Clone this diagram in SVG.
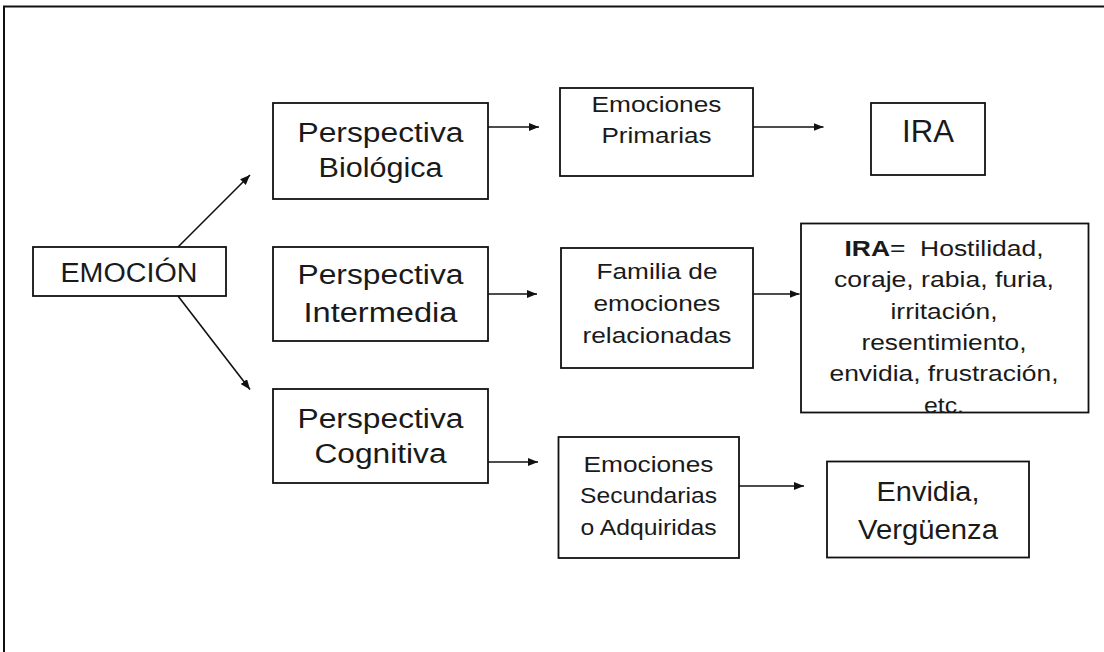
<svg xmlns="http://www.w3.org/2000/svg" width="1104" height="652" viewBox="0 0 1104 652">
<defs>
<marker id="ah" viewBox="0 0 10 8" refX="10" refY="4" markerWidth="10" markerHeight="8" markerUnits="userSpaceOnUse" orient="auto">
<path d="M0,0 L10,4 L0,8 Z" fill="#111"/>
</marker>
<style>
.box{fill:#fff;stroke:#111;stroke-width:1.8}
.t{font-family:"Liberation Sans",Arial,sans-serif;fill:#1a1a1a;text-anchor:middle}
.big{font-size:27px}
.sm{font-size:22.5px}
.conn line{stroke:#111;stroke-width:1.6;marker-end:url(#ah)}
</style>
</defs>
<rect width="1104" height="652" fill="#fff"/>
<path d="M4,652 V6.5 H1104" fill="none" stroke="#111" stroke-width="2"/>

<g id="emocion">
<rect class="box" x="33" y="247" width="193" height="49"/>
<text class="t big" x="129" y="282" textLength="137" lengthAdjust="spacingAndGlyphs">EMOCIÓN</text>
</g>

<g id="p-biologica">
<rect class="box" x="273" y="103" width="215" height="96"/>
<text class="t big" x="380.5" y="142" textLength="166" lengthAdjust="spacingAndGlyphs">Perspectiva</text>
<text class="t big" x="380.5" y="177" textLength="124" lengthAdjust="spacingAndGlyphs">Biológica</text>
</g>

<g id="p-intermedia">
<rect class="box" x="273" y="247" width="215" height="94"/>
<text class="t big" x="380.5" y="284" textLength="166" lengthAdjust="spacingAndGlyphs">Perspectiva</text>
<text class="t big" x="380.5" y="321.5" textLength="154" lengthAdjust="spacingAndGlyphs">Intermedia</text>
</g>

<g id="p-cognitiva">
<rect class="box" x="273" y="389" width="215" height="94"/>
<text class="t big" x="380.5" y="428" textLength="166" lengthAdjust="spacingAndGlyphs">Perspectiva</text>
<text class="t big" x="380.5" y="463" textLength="132" lengthAdjust="spacingAndGlyphs">Cognitiva</text>
</g>

<g id="primarias">
<rect class="box" x="560" y="88" width="193" height="88"/>
<text class="t sm" x="656.5" y="111.5" textLength="130" lengthAdjust="spacingAndGlyphs">Emociones</text>
<text class="t sm" x="656.5" y="143" textLength="110" lengthAdjust="spacingAndGlyphs">Primarias</text>
</g>

<g id="familia">
<rect class="box" x="561" y="248" width="192" height="120"/>
<text class="t sm" x="657" y="279" textLength="121" lengthAdjust="spacingAndGlyphs">Familia de</text>
<text class="t sm" x="657" y="311" textLength="127" lengthAdjust="spacingAndGlyphs">emociones</text>
<text class="t sm" x="657" y="343" textLength="149" lengthAdjust="spacingAndGlyphs">relacionadas</text>
</g>

<g id="secundarias">
<rect class="box" x="558.5" y="437" width="180.5" height="121"/>
<text class="t sm" x="648.5" y="471.5" textLength="130" lengthAdjust="spacingAndGlyphs">Emociones</text>
<text class="t sm" x="648.5" y="503.3" textLength="137" lengthAdjust="spacingAndGlyphs">Secundarias</text>
<text class="t sm" x="648.5" y="535" textLength="136" lengthAdjust="spacingAndGlyphs">o Adquiridas</text>
</g>

<g id="ira">
<rect class="box" x="871" y="103" width="114" height="72"/>
<text class="t" style="font-size:31px" x="928" y="141.5" textLength="52" lengthAdjust="spacingAndGlyphs">IRA</text>
</g>

<g id="ira-familia">
<rect class="box" x="801" y="223.5" width="287.5" height="189"/>
<text class="t sm" x="944" y="255.5" textLength="199" lengthAdjust="spacingAndGlyphs" style="white-space:pre" xml:space="preserve"><tspan font-weight="bold">IRA</tspan>=  Hostilidad,</text>
<text class="t sm" x="944" y="287.2" textLength="220" lengthAdjust="spacingAndGlyphs">coraje, rabia, furia,</text>
<text class="t sm" x="944" y="318.6" textLength="107" lengthAdjust="spacingAndGlyphs">irritación,</text>
<text class="t sm" x="944" y="350" textLength="165" lengthAdjust="spacingAndGlyphs">resentimiento,</text>
<text class="t sm" x="944" y="381.4" textLength="229" lengthAdjust="spacingAndGlyphs">envidia, frustración,</text>
<text class="t sm" x="944" y="412.8" textLength="40" lengthAdjust="spacingAndGlyphs">etc.</text>
</g>

<g id="envidia">
<rect class="box" x="827" y="461.5" width="202" height="96"/>
<text class="t big" x="928" y="500.5" textLength="103" lengthAdjust="spacingAndGlyphs">Envidia,</text>
<text class="t big" x="928" y="539" textLength="140" lengthAdjust="spacingAndGlyphs">Vergüenza</text>
</g>

<g id="connectors" class="conn">
<line x1="178" y1="247" x2="250" y2="175"/>
<line x1="178" y1="296" x2="250" y2="389.5"/>
<line x1="488" y1="127" x2="539" y2="127"/>
<line x1="488" y1="294" x2="537" y2="294"/>
<line x1="488" y1="462" x2="538" y2="462"/>
<line x1="753" y1="127" x2="823.5" y2="127"/>
<line x1="753" y1="294" x2="799.5" y2="294"/>
<line x1="739" y1="486" x2="804" y2="486"/>
</g>
</svg>
